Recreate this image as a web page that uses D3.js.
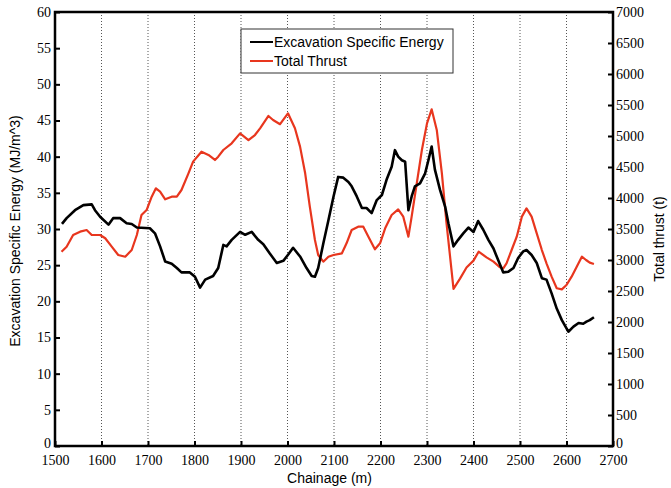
<!DOCTYPE html>
<html><head><meta charset="utf-8">
<script src="https://cdn.jsdelivr.net/npm/d3@7"></script>
<style>body{margin:0;background:#fff;} svg{display:block;}</style>
</head><body>
<script>
const xTicks = [1500,1600,1700,1800,1900,2000,2100,2200,2300,2400,2500,2600,2700];
const leftTicks = [0,5,10,15,20,25,30,35,40,45,50,55,60];
const rightTicks = [0,500,1000,1500,2000,2500,3000,3500,4000,4500,5000,5500,6000,6500,7000];
const eseChainage = [1515,1525,1543,1561,1579,1586,1597,1615,1625,1640,1654,1665,1676,1704,1715,1726,1737,1751,1762,1772,1790,1801,1812,1823,1840,1851,1862,1869,1880,1898,1909,1923,1937,1948,1962,1977,1991,2002,2012,2027,2041,2052,2059,2066,2077,2088,2099,2109,2120,2131,2138,2149,2160,2170,2181,2192,2203,2213,2224,2231,2238,2246,2253,2260,2267,2274,2285,2296,2303,2310,2317,2328,2339,2346,2357,2367,2378,2389,2400,2410,2421,2432,2443,2453,2464,2475,2486,2496,2507,2514,2525,2536,2547,2557,2568,2579,2590,2604,2615,2626,2636,2643,2650,2659];
const eseValues = [30.7,31.5,32.6,33.3,33.4,32.6,31.7,30.6,31.5,31.5,30.8,30.7,30.2,30.1,29.4,27.6,25.5,25.2,24.6,24.0,24.0,23.4,21.9,23.0,23.5,24.6,27.8,27.6,28.5,29.6,29.2,29.6,28.5,27.9,26.6,25.3,25.6,26.5,27.4,26.2,24.6,23.5,23.4,24.6,28.0,31.2,34.5,37.2,37.1,36.5,35.9,34.5,32.9,32.9,32.2,34.0,34.7,36.8,38.6,40.9,40.0,39.5,39.3,32.6,34.5,35.9,36.3,37.7,39.5,41.4,38.2,35.4,33.1,30.8,27.6,28.5,29.4,30.2,29.6,31.1,29.9,28.5,27.3,25.7,24.0,24.1,24.6,26.0,26.9,27.1,26.4,25.3,23.2,23.0,21.1,19.0,17.4,15.8,16.5,17.0,16.9,17.2,17.4,17.8];
const thrustChainage = [1514,1525,1539,1554,1568,1579,1597,1608,1622,1636,1651,1665,1676,1686,1697,1708,1717,1726,1737,1751,1762,1772,1787,1797,1815,1830,1844,1851,1862,1880,1898,1916,1930,1941,1959,1969,1984,2001,2016,2027,2038,2048,2059,2066,2077,2088,2099,2117,2127,2138,2152,2163,2174,2188,2199,2210,2224,2238,2249,2260,2267,2278,2289,2300,2310,2321,2332,2342,2357,2371,2385,2400,2411,2428,2443,2457,2464,2471,2482,2493,2504,2514,2525,2536,2547,2557,2568,2579,2590,2600,2611,2622,2633,2642,2650,2659];
const thrustValues = [3134,3215,3403,3457,3484,3403,3403,3350,3215,3081,3053,3161,3403,3726,3806,4021,4156,4102,3979,4021,4021,4129,4398,4586,4747,4694,4613,4667,4774,4882,5043,4935,5016,5124,5323,5258,5190,5366,5124,4828,4398,3860,3323,3081,2973,3053,3081,3108,3269,3484,3537,3537,3376,3172,3269,3511,3726,3817,3699,3376,3699,4237,4774,5204,5430,5097,4398,3592,2535,2700,2880,2990,3134,3043,2973,2882,2866,2946,3161,3376,3699,3833,3699,3430,3161,2946,2731,2544,2527,2597,2731,2892,3053,3000,2957,2935];
const seriesNames = ["Excavation Specific Energy","Total Thrust"];

const W = 671, H = 488;
const m = {l:55, r:58, t:12, b:42};
const svg = d3.select("body").append("svg").attr("width",W).attr("height",H);

const x = d3.scaleLinear().domain([1500,2700]).range([m.l, W-m.r]);
const yL = d3.scaleLinear().domain([0,60]).range([H-m.b, m.t]);
const yR = d3.scaleLinear().domain([0,7000]).range([H-m.b, m.t]);

const serif = "Liberation Serif, Times New Roman, serif";
const sans = "Liberation Sans, Arial, sans-serif";

// dotted grid
svg.append("g").selectAll("line").data(xTicks.slice(1,-1)).join("line")
  .attr("x1",d=>x(d)).attr("x2",d=>x(d)).attr("y1",m.t).attr("y2",H-m.b)
  .attr("stroke","#555").attr("stroke-width",1).attr("stroke-dasharray","1,2");

// lines
const eseData = eseChainage.map((c,i)=>[c,eseValues[i]]);
const thrData = thrustChainage.map((c,i)=>[c,thrustValues[i]]);
svg.append("path").datum(thrData)
  .attr("d", d3.line().x(d=>x(d[0])).y(d=>yR(d[1])))
  .attr("fill","none").attr("stroke","#e8361e").attr("stroke-width",2.2).attr("stroke-linejoin","round");
svg.append("path").datum(eseData)
  .attr("d", d3.line().x(d=>x(d[0])).y(d=>yL(d[1])))
  .attr("fill","none").attr("stroke","#000").attr("stroke-width",2.6).attr("stroke-linejoin","round");

// axes (inward ticks)
function styleAxis(g){
  g.attr("font-family",null).attr("font-size",null);
  g.select(".domain").remove();
  g.selectAll(".tick line").attr("stroke","#000").attr("stroke-width",2);
  g.selectAll(".tick text").style("font-family",serif).style("font-size","14px").attr("fill","#000");
}
const gx = svg.append("g").attr("transform",`translate(0,${H-m.b})`)
  .call(d3.axisBottom(x).tickValues(xTicks).tickFormat(d3.format("d")).tickSizeInner(-5).tickPadding(9));
styleAxis(gx);
gx.selectAll(".tick text").attr("dy","0.72em").attr("y",9);

const gl = svg.append("g").attr("transform",`translate(${m.l},0)`)
  .call(d3.axisLeft(yL).tickValues(leftTicks).tickFormat(d3.format("d")).tickSizeInner(-5).tickPadding(5));
styleAxis(gl);
gl.selectAll(".tick text").attr("x",-4).attr("dy",d=>d===0?"0.1em":"0.32em");

const gr = svg.append("g").attr("transform",`translate(${W-m.r},0)`)
  .call(d3.axisRight(yR).tickValues(rightTicks).tickFormat(d3.format("d")).tickSizeInner(-5).tickPadding(4));
styleAxis(gr);
gr.selectAll(".tick text").attr("x",3).attr("dy",d=>d===0?"0.1em":"0.32em");

// frame
svg.append("rect").attr("x",m.l).attr("y",m.t).attr("width",W-m.l-m.r).attr("height",H-m.t-m.b)
  .attr("fill","none").attr("stroke","#000").attr("stroke-width",2.5);

// axis titles
svg.append("text").attr("x",x(2000)+42).attr("y",483).attr("text-anchor","middle")
  .style("font-family",sans).style("font-size","14px").text("Chainage (m)");
svg.append("text").attr("transform",`translate(20,${(m.t+H-m.b)/2+2}) rotate(-90)`).attr("text-anchor","middle")
  .style("font-family",sans).style("font-size","14px").text("Excavation Specific Energy (MJ/m^3)");
svg.append("text").attr("transform",`translate(664,${(m.t+H-m.b)/2+10}) rotate(-90)`).attr("text-anchor","middle")
  .style("font-family",sans).style("font-size","14px").text("Total thrust (t)");

// legend
const lg = svg.append("g");
lg.append("rect").attr("x",241).attr("y",29).attr("width",212).attr("height",44)
  .attr("fill","#fff").attr("stroke","#333").attr("stroke-width",1);
const colors = ["#000","#e8361e"];
seriesNames.forEach((n,i)=>{
  const yy = 42 + i*19;
  lg.append("line").attr("x1",250).attr("x2",273).attr("y1",yy).attr("y2",yy)
    .attr("stroke",colors[i]).attr("stroke-width",2);
  lg.append("text").attr("x",274).attr("y",yy+5).style("font-family",sans).style("font-size","14px").text(n);
});
</script>
</body></html>
